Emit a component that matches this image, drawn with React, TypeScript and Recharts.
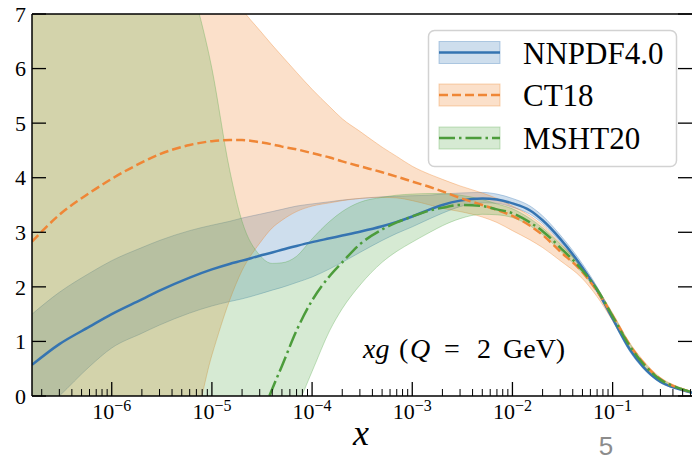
import React from "react";
import { ComposedChart, Area, Line, XAxis, YAxis, ReferenceLine } from "recharts";

const W = 692;
const H = 463;
const SERIF = "Liberation Serif, Times New Roman, Times, DejaVu Serif, Noto Serif, serif";

const BLUE = "#3574b1";
const ORANGE = "#ef8636";
const GREEN = "#4c9c3b";
const BLUE_FILL = "#3b7bb7";
const ORANGE_FILL = "#ef832b";
const GREEN_FILL = "#5bab4f";

// x grid (log scale)
const X = [1.6e-7, 3e-7, 6e-7, 1e-6, 2e-6, 3e-6, 6e-6, 1e-5, 1.5e-5, 2e-5, 3e-5, 4e-5, 5e-5, 7e-5, 1e-4, 1.5e-4, 2e-4, 3e-4, 5e-4, 7e-4, 1e-3, 1.5e-3, 2e-3, 3e-3, 5e-3, 7e-3, 1e-2, 1.5e-2, 2e-2, 3e-2, 5e-2, 7e-2, 0.1, 0.15, 0.2, 0.3, 0.45, 0.62];

const NNPDF = [0.57, 0.95, 1.27, 1.5, 1.77, 1.93, 2.17, 2.32, 2.42, 2.48, 2.57, 2.63, 2.68, 2.75, 2.82, 2.89, 2.94, 3.01, 3.11, 3.19, 3.29, 3.42, 3.5, 3.58, 3.62, 3.6, 3.53, 3.4, 3.22, 2.88, 2.35, 1.94, 1.42, 0.84, 0.54, 0.26, 0.13, 0.06];
const NNPDF_LO = [-0.45, 0.0, 0.54, 0.88, 1.15, 1.3, 1.52, 1.65, 1.73, 1.78, 1.87, 1.94, 1.99, 2.08, 2.18, 2.33, 2.45, 2.63, 2.85, 2.98, 3.1, 3.25, 3.35, 3.47, 3.54, 3.53, 3.46, 3.33, 3.16, 2.82, 2.3, 1.9, 1.38, 0.8, 0.51, 0.24, 0.12, 0.05];
const NNPDF_HI = [1.5, 1.9, 2.25, 2.48, 2.72, 2.85, 3.03, 3.13, 3.2, 3.26, 3.33, 3.38, 3.42, 3.48, 3.52, 3.56, 3.59, 3.62, 3.65, 3.66, 3.67, 3.68, 3.7, 3.72, 3.73, 3.7, 3.62, 3.48, 3.3, 2.95, 2.42, 2.0, 1.46, 0.88, 0.57, 0.28, 0.14, 0.07];

const CT18 = [2.83, 3.32, 3.72, 3.98, 4.28, 4.43, 4.6, 4.67, 4.69, 4.69, 4.65, 4.61, 4.57, 4.52, 4.45, 4.37, 4.3, 4.21, 4.1, 4.02, 3.93, 3.83, 3.75, 3.63, 3.5, 3.41, 3.3, 3.12, 2.95, 2.65, 2.27, 1.92, 1.47, 0.92, 0.62, 0.31, 0.15, 0.07];
const CT18_LO = [-1, -1, -1, -1, -1, -1, -0.7, 0.75, 1.75, 2.3, 2.8, 3.08, 3.22, 3.38, 3.48, 3.54, 3.58, 3.62, 3.64, 3.63, 3.58, 3.5, 3.44, 3.38, 3.28, 3.18, 3.03, 2.86, 2.72, 2.48, 2.15, 1.82, 1.38, 0.85, 0.56, 0.27, 0.13, 0.05];
const CT18_HI = [10, 10, 10, 10, 10, 10, 9.5, 8.3, 7.45, 7.09, 6.7, 6.43, 6.23, 5.93, 5.62, 5.3, 5.08, 4.85, 4.56, 4.39, 4.21, 4.06, 3.97, 3.85, 3.72, 3.62, 3.48, 3.3, 3.13, 2.8, 2.36, 1.98, 1.52, 0.96, 0.66, 0.34, 0.17, 0.08];

const MSHT = [null, null, null, null, null, null, null, null, null, null, -0.45, 0.13, 0.55, 1.2, 1.75, 2.2, 2.45, 2.78, 3.05, 3.18, 3.29, 3.4, 3.45, 3.5, 3.48, 3.42, 3.35, 3.18, 3.02, 2.72, 2.3, 1.95, 1.46, 0.9, 0.6, 0.3, 0.15, 0.07];
const MSHT_LO = [-1, -1, -1, -1, -1, -1, -1, -1, -1, -1, -1, -1, -0.6, -0.2, 0.45, 1.2, 1.6, 2.03, 2.45, 2.65, 2.82, 3.0, 3.12, 3.25, 3.33, 3.32, 3.27, 3.12, 2.96, 2.66, 2.25, 1.91, 1.42, 0.86, 0.57, 0.28, 0.14, 0.06];
const MSHT_HI = [12, 12, 12, 12, 11, 10, 7.7, 6.0, 4.15, 3.2, 2.58, 2.43, 2.44, 2.56, 2.88, 3.2, 3.38, 3.55, 3.64, 3.68, 3.7, 3.71, 3.71, 3.68, 3.6, 3.52, 3.43, 3.25, 3.08, 2.78, 2.35, 1.99, 1.5, 0.94, 0.63, 0.32, 0.16, 0.08];

const X_DOMAIN = [1.6e-7, 0.62];
const MAJOR_TICKS = [1e-6, 1e-5, 1e-4, 1e-3, 1e-2, 1e-1];
const MINOR_MULT = [2, 3, 4, 5, 6, 7, 8, 9];
const DECADES = [1e-7, 1e-6, 1e-5, 1e-4, 1e-3, 1e-2, 1e-1];
const Y_TICKS = [0, 1, 2, 3, 4, 5, 6, 7];

const minorTicks = DECADES.flatMap((d) => MINOR_MULT.map((m) => m * d)).filter(
  (v) => v > X_DOMAIN[0] && v < X_DOMAIN[1]
);
const xTicks = [...MAJOR_TICKS, ...minorTicks].sort((a, b) => a - b);

const data = X.map((x, i) => ({
  x,
  nnpdf: NNPDF[i],
  nnpdfBand: [NNPDF_LO[i], NNPDF_HI[i]],
  ct18: CT18[i],
  ct18Band: [CT18_LO[i], CT18_HI[i]],
  msht: MSHT[i],
  mshtBand: [MSHT_LO[i], MSHT_HI[i]],
}));

const serif = { fontFamily: SERIF };

function XTick(props: any) {
  const { x, y, payload } = props;
  const v = payload.value;
  const major = MAJOR_TICKS.some((m) => Math.abs(m - v) / m < 1e-6);
  if (!major) {
    return <line x1={x} x2={x} y1={y} y2={y - 7} stroke="#000" strokeWidth={1} />;
  }
  const exp = Math.round(Math.log10(v));
  return (
    <g>
      <line x1={x} x2={x} y1={y} y2={y - 14} stroke="#000" strokeWidth={1.3} />
      <text x={x} y={y + 23} textAnchor="middle" style={serif} fontSize={22} fill="#000">
        <tspan>10</tspan>
        <tspan dy={-8} fontSize={16}>{"\u2212" + Math.abs(exp)}</tspan>
      </text>
    </g>
  );
}

function YTick(props: any) {
  const { x, y, payload } = props;
  return (
    <g>
      <line x1={x} x2={x + 14} y1={y} y2={y} stroke="#000" strokeWidth={1.3} />
      <line x1={W - 14} x2={W} y1={y} y2={y} stroke="#000" strokeWidth={1.3} />
      <text x={x - 6} y={y} dy="0.35em" textAnchor="end" style={serif} fontSize={22} fill="#000">
        {payload.value}
      </text>
    </g>
  );
}

const LEGEND = [
  { name: "NNPDF4.0", color: BLUE, fill: BLUE_FILL, dash: undefined },
  { name: "CT18", color: ORANGE, fill: ORANGE_FILL, dash: "9 4" },
  { name: "MSHT20", color: GREEN, fill: GREEN_FILL, dash: "16 4 2.5 4" },
];

function Overlay() {
  const rows = [52.5, 95, 138];
  return (
    <svg width={W} height={H} style={{ position: "absolute", left: 0, top: 0, pointerEvents: "none" }}>
      <rect x={428.5} y={30.5} width={248} height={136} rx={6} fill="#fff" fillOpacity={0.85} stroke="#d2d2d2" strokeWidth={1.5} />
      {LEGEND.map((e, i) => (
        <g key={e.name}>
          <rect x={439} y={rows[i] - 11} width={61} height={22} fill={e.fill} fillOpacity={0.25} stroke={e.fill} strokeOpacity={0.35} />
          <line x1={439} x2={500} y1={rows[i]} y2={rows[i]} stroke={e.color} strokeWidth={2.5} strokeDasharray={e.dash} />
          <text x={523} y={rows[i] + 11} style={serif} fontSize={31} fill="#000">
            {e.name}
          </text>
        </g>
      ))}
      <text y={358} style={serif} fontSize={28} fill="#000">
        <tspan x={363} fontStyle="italic">xg</tspan>
        <tspan x={399}>(</tspan>
        <tspan x={410} fontStyle="italic">Q</tspan>
        <tspan x={444}>=</tspan>
        <tspan x={477}>2</tspan>
        <tspan x={503}>GeV)</tspan>
      </text>
      <text x={361} y={445} textAnchor="middle" style={serif} fontStyle="italic" fontSize={36} fill="#000">
        x
      </text>
      <text x={606} y={455} textAnchor="middle" style={{ fontFamily: "Liberation Sans, Arial, sans-serif" }} fontSize={26} fill="#8c8c8c">
        5
      </text>
    </svg>
  );
}

export default function App() {
  return (
    <div style={{ position: "absolute", left: 0, top: 0, width: W, height: H, background: "#fff" }}>
      <ComposedChart width={W} height={H} data={data} margin={{ top: 14, right: 0, bottom: 0, left: 0 }}>
        <XAxis
          dataKey="x"
          type="number"
          scale="log"
          domain={X_DOMAIN}
          allowDataOverflow
          ticks={xTicks}
          interval={0}
          tick={<XTick />}
          tickSize={0}
          tickMargin={0}
          tickLine={false}
          height={67}
          axisLine={{ stroke: "#000", strokeWidth: 1.5 }}
        />
        <YAxis
          type="number"
          domain={[0, 7]}
          allowDataOverflow
          ticks={Y_TICKS}
          interval={0}
          tick={<YTick />}
          width={32}
          tickSize={0}
          tickMargin={0}
          tickLine={false}
          axisLine={{ stroke: "#000", strokeWidth: 1.5 }}
        />
        <ReferenceLine y={7} stroke="#000" strokeWidth={1.5} />
        <Area dataKey="nnpdfBand" type="monotone" stroke={BLUE_FILL} strokeOpacity={0.35} strokeWidth={1} fill={BLUE_FILL} fillOpacity={0.25} dot={false} activeDot={false} isAnimationActive={false} />
        <Area dataKey="ct18Band" type="monotone" stroke={ORANGE_FILL} strokeOpacity={0.35} strokeWidth={1} fill={ORANGE_FILL} fillOpacity={0.25} dot={false} activeDot={false} isAnimationActive={false} />
        <Area dataKey="mshtBand" type="monotone" stroke={GREEN_FILL} strokeOpacity={0.35} strokeWidth={1} fill={GREEN_FILL} fillOpacity={0.25} dot={false} activeDot={false} isAnimationActive={false} />
        <Line dataKey="nnpdf" type="monotone" stroke={BLUE} strokeWidth={2.5} dot={false} activeDot={false} isAnimationActive={false} />
        <Line dataKey="ct18" type="monotone" stroke={ORANGE} strokeWidth={2.5} strokeDasharray="9 4" dot={false} activeDot={false} isAnimationActive={false} />
        <Line dataKey="msht" type="monotone" stroke={GREEN} strokeWidth={2.5} strokeDasharray="16 4 2.5 4" dot={false} activeDot={false} isAnimationActive={false} />
      </ComposedChart>
      <Overlay />
    </div>
  );
}
